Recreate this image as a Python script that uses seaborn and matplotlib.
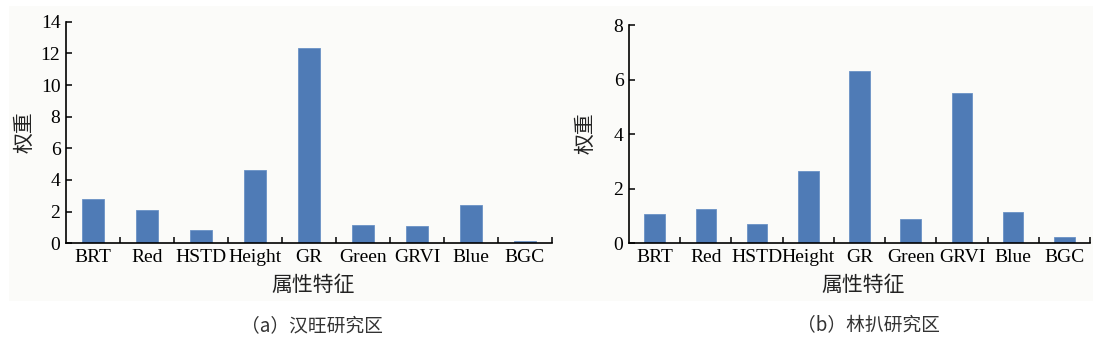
import numpy as np
import matplotlib
matplotlib.use("Agg")
import matplotlib.pyplot as plt
from matplotlib.patches import Rectangle
from matplotlib.ticker import FixedLocator, NullFormatter
import seaborn as sns

# Feature names and their weights for the two study areas
features = ["BRT", "Red", "HSTD", "Height", "GR", "Green", "GRVI", "Blue", "BGC"]
weights_hanwang = [2.78, 2.08, 0.82, 4.61, 12.32, 1.14, 1.11, 2.44, 0.13]
weights_linpa = [1.06, 1.25, 0.72, 2.66, 6.30, 0.89, 5.52, 1.13, 0.22]

yticks_hanwang = [0, 2, 4, 6, 8, 10, 12, 14]
yticks_linpa = [0, 2, 4, 6, 8]

xlabel = "属性特征"
ylabel = "权重"
captions = ["（a）汉旺研究区", "（b）林扒研究区"]

sns.set_theme(style="white")
plt.rcParams["font.family"] = ["Liberation Serif", "Noto Sans CJK SC"]
plt.rcParams["axes.unicode_minus"] = False

W, H = 1097, 344
fig = plt.figure(figsize=(W / 100, H / 100), dpi=100)
fig.patch.set_facecolor("white")

# faint paper tint behind the plotting area
fig.patches.append(Rectangle((9 / W, 1 - 301 / H), (1093 - 9) / W, (301 - 6) / H,
                             transform=fig.transFigure, facecolor="#fbfbf9",
                             edgecolor="none", zorder=-10))

bar_color = "#4f7bb6"
cjk = ["Noto Sans CJK SC", "DejaVu Sans"]

panels = [
    dict(vals=weights_hanwang, ticks=yticks_hanwang, rect=(66, 552, 21.7),
         ylab=(24, 132), cap_x=312),
    dict(vals=weights_linpa, ticks=yticks_linpa, rect=(629, 1090, 25.0),
         ylab=(585, 133), cap_x=868),
]

y0 = 243.3
for p, cap in zip(panels, captions):
    x0, x1, ytop = p["rect"]
    ax = fig.add_axes([x0 / W, 1 - y0 / H, (x1 - x0) / W, (y0 - ytop) / H])
    ax.set_zorder(5)
    ax.set_facecolor("none")
    sns.barplot(x=features, y=p["vals"], color=bar_color, saturation=1,
                width=0.4, ax=ax, edgecolor="#6a92c6", linewidth=0.6)
    ax.set_xlim(-0.5, len(features) - 0.5)
    ax.set_ylim(p["ticks"][0], p["ticks"][-1])
    ax.set_yticks(p["ticks"])
    ax.set_yticklabels([str(t) for t in p["ticks"]], fontsize=14)
    ax.set_xticks(range(len(features)))
    ax.set_xticklabels(features, fontsize=14)
    ax.xaxis.set_minor_locator(FixedLocator(np.arange(0.5, len(features), 1.0)))
    ax.xaxis.set_minor_formatter(NullFormatter())
    ax.tick_params(axis="x", which="major", length=0, pad=4, colors="black")
    ax.tick_params(axis="x", which="minor", direction="in", length=4,
                   width=1.1, color="black", bottom=True)
    ax.tick_params(axis="y", which="major", direction="in", length=4,
                   width=1.1, color="black", left=True, pad=4, labelcolor="black")
    for s in ["top", "right"]:
        ax.spines[s].set_visible(False)
    for s in ["left", "bottom"]:
        ax.spines[s].set_color("black")
        ax.spines[s].set_linewidth(1.2)
    ax.set_xlabel("")
    ax.set_ylabel("")
    ax.grid(False)

    # axis titles and caption
    fig.text(p["ylab"][0] / W, 1 - p["ylab"][1] / H, ylabel, rotation=90,
             ha="center", va="center", fontsize=15, family=cjk, color="#222222")
    fig.text(((x0 + x1) / 2 + 4) / W, 1 - 285 / H, xlabel, ha="center",
             va="center", fontsize=15, family=cjk, color="#222222")
    fig.text(p["cap_x"] / W, 1 - 326 / H, cap, ha="center", va="center",
             fontsize=13.5, family=cjk, color="#333333", fontweight="light")

fig.savefig("out.png", dpi=100, facecolor="white")
